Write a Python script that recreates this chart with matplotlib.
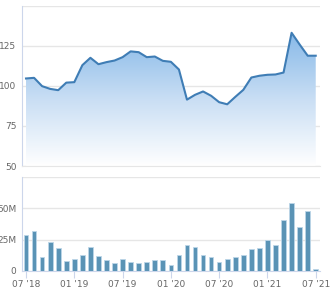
import numpy as np
import matplotlib
matplotlib.use('Agg')
from matplotlib import pyplot as plt
from matplotlib.patches import Polygon
from matplotlib.ticker import FuncFormatter

# monthly, 07 '18 .. 07 '21
months = list(range(37))
tick_pos = [0, 6, 12, 18, 24, 30, 36]
tick_labels = ["07 '18", "01 '19", "07 '19", "01 '20", "07 '20", "01 '21", "07 '21"]

price = [104.6, 105.0, 99.8, 98.1, 97.3, 102.0, 102.3, 112.9, 117.5, 113.5,
         114.8, 115.8, 117.9, 121.5, 121.0, 117.9, 118.3, 115.6, 115.0, 110.2,
         91.4, 94.4, 96.5, 93.8, 89.8, 88.5, 93.1, 97.5, 105.2, 106.3,
         106.9, 107.1, 108.3, 133.1, 125.8, 118.8, 118.8]

volume = [28.8, 32.1, 10.9, 23.4, 17.9, 8.1, 9.3, 13.0, 19.0, 11.7,
          8.7, 6.0, 9.3, 7.1, 6.3, 7.1, 8.5, 8.7, 4.4, 12.5,
          20.9, 19.0, 13.0, 10.6, 7.1, 9.3, 11.2, 13.0, 17.4, 17.9,
          24.7, 20.9, 40.5, 54.0, 35.3, 47.8, 1.4]

txt = '#666666'
grid = '#e6e6e6'
axc = '#ccd6eb'

fig = plt.figure(figsize=(3.3, 2.96), dpi=100)
ax1 = fig.add_axes([22/330, 1 - 166/296, 298/330, 160.3/296])
ax2 = fig.add_axes([22/330, 1 - 270.7/296, 298/330, 93.4/296])

# price panel
ax1.set_xlim(-0.5, 36.53)
ax1.set_ylim(50, 150)
grad = np.linspace(0, 1, 256).reshape(-1, 1)
cmap = matplotlib.colors.LinearSegmentedColormap.from_list('g', ['#ffffff', '#c9def4', '#87b9e8'])
im = ax1.imshow(grad, cmap=cmap, aspect='auto', origin='lower',
                extent=[-0.5, 36.53, 50, 133], zorder=1)
poly = Polygon(list(zip(months, price)) + [(36, 50), (0, 50)], closed=True,
               facecolor='none', edgecolor='none')
ax1.add_patch(poly)
im.set_clip_path(poly)
ax1.plot(months, price, color='#3f7db5', lw=1.5, zorder=3)
ax1.set_yticks([50, 75, 100, 125, 150])
ax1.set_yticklabels(['50', '75', '100', '125', ''])
ax1.set_xticks([])
ax1.grid(axis='y', color=grid, lw=1)
ax1.set_axisbelow(True)

# volume panel
ax2.set_xlim(-0.5, 36.53)
ax2.set_ylim(0, 75)
ax2.bar(months, volume, width=0.58, color='#5a93b5', edgecolor='#bcd6e8', lw=0.6, zorder=3)
ax2.set_yticks([0, 25, 50, 75])
ax2.yaxis.set_major_formatter(FuncFormatter(lambda v, p: '' if v == 75 else ('0' if v == 0 else '%dM' % v)))
ax2.set_xticks(tick_pos)
ax2.set_xticklabels(tick_labels)
ax2.grid(axis='y', color=grid, lw=1)
ax2.set_axisbelow(True)

for ax in (ax1, ax2):
    for s in ('top', 'right'):
        ax.spines[s].set_visible(False)
    ax.spines['left'].set_color(axc)
    ax.spines['left'].set_linewidth(0.8)
    ax.spines['bottom'].set_color(grid if ax is ax1 else axc)
    ax.tick_params(axis='y', length=0, pad=4, labelsize=6.5, labelcolor=txt)
    ax.tick_params(axis='x', length=5, color=axc, pad=2, labelsize=6.5, labelcolor=txt)

fig.savefig('out.png', dpi=100)
